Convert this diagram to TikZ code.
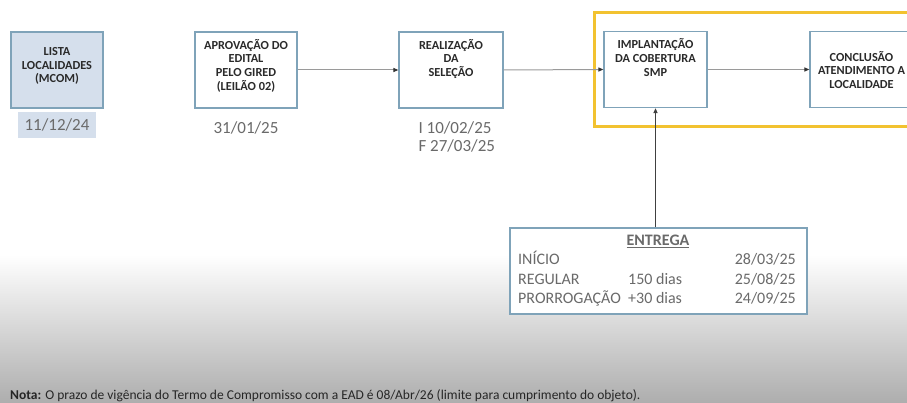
\documentclass[tikz,border=0pt]{standalone}
\usepackage{fontspec}
\setmainfont{Carlito}
\usetikzlibrary{arrows.meta}
\definecolor{boxline}{HTML}{7FA3B9}
\definecolor{listfill}{HTML}{D5DFEC}
\definecolor{boxtext}{HTML}{2A2A2A}
\definecolor{datetext}{HTML}{6A6A6A}
\definecolor{yframe}{HTML}{F2C230}
\definecolor{conn}{HTML}{9A9A9A}
\tikzset{
  stepbox/.style={draw=boxline, line width=1.2pt, minimum width=#1, minimum height=76pt, inner sep=0pt},
  boxlabel/.style={font=\fontsize{12.3}{13.8}\selectfont\bfseries, text=boxtext, align=center},
  datelabel/.style={font=\fontsize{17}{18}\selectfont, text=datetext, align=left},
  conn/.style={draw=conn, line width=1pt, -{Triangle[length=5pt,width=4pt,fill=black!80,color=black!80]}},
  entrytext/.style={font=\fontsize{16}{18}\selectfont, text=datetext, anchor=base west, inner sep=0pt},
}
\begin{document}
\begin{tikzpicture}[x=1pt,y=-1pt]
\useasboundingbox (0,0) rectangle (907,403);
\fill[white] (0,0) rectangle (907,403);
\shade[top color=white, bottom color=black!32] (0,255) rectangle (907,403);
% yellow frame
\draw[yframe, line width=3pt] (594.5,12.5) rectangle (910,126.5);
% boxes
\node[stepbox=92pt, fill=listfill] (lista) at (57,70) {};
\node[boxlabel] at (57,66) {LISTA\\LOCALIDADES\\(MCOM)};
\node[fill=listfill, minimum width=78pt, minimum height=26pt, inner sep=0pt] (d1) at (57,125) {};
\node[datelabel] at (57,125) {11/12/24};
\node[stepbox=102pt] (aprov) at (246,70) {};
\node[boxlabel, anchor=north] at (246,35.5) {APROVAÇÃO DO\\EDITAL\\PELO GIRED\\(LEILÃO 02)};
\node[datelabel] (d2) at (246,128) {31/01/25};
\node[stepbox=104pt] (real) at (451,70) {};
\node[boxlabel, anchor=north] at (451,35.5) {REALIZAÇÃO\\DA\\SELEÇÃO};
\node[datelabel, anchor=north west] (d3) at (415,118) {I 10/02/25\\F 27/03/25};
\node[stepbox=103pt] (impl) at (655.5,69.5) {};
\node[boxlabel, anchor=north] at (655.5,35) {IMPLANTAÇÃO\\DA COBERTURA\\SMP};
\node[stepbox=103pt] (concl) at (861.5,69.5) {};
\node[boxlabel] at (861.5,70) {CONCLUSÃO\\ATENDIMENTO A\\LOCALIDADE};
% connectors
\draw[conn] (aprov.east) -- (real.west);
\draw[conn] (real.east) -- (impl.west);
\draw[conn] (impl.east) -- (concl.west);
% entrega box
\node[draw=boxline, line width=1.2pt, fill=white, minimum width=297pt, minimum height=86pt, inner sep=0pt] (entrega) at (658.5,271) {};
\draw[black!75, line width=1.3pt, -{Triangle[length=5pt,width=4pt]}] (entrega.north -| impl.south) -- (impl.south);
\node[font=\fontsize{16}{18}\selectfont\bfseries, text=datetext, anchor=base, inner sep=0pt] at (658,246) {\underline{ENTREGA}};
\node[entrytext] at (518,265) {INÍCIO};
\node[entrytext] at (518,284) {REGULAR};
\node[entrytext] at (518,303) {PRORROGAÇÃO};
\node[entrytext] at (628,284) {150 dias};
\node[entrytext] at (628,303) {+30 dias};
\node[entrytext, anchor=base east] at (796,265) {28/03/25};
\node[entrytext, anchor=base east] at (796,284) {25/08/25};
\node[entrytext, anchor=base east] at (796,303) {24/09/25};
% nota
\node[anchor=base west, font=\fontsize{13.5}{15}\selectfont, text=black!85, inner sep=0pt] at (10,399) {\textbf{Nota:} O prazo de vigência do Termo de Compromisso com a EAD é 08/Abr/26 (limite para cumprimento do objeto).};
\end{tikzpicture}
\end{document}
